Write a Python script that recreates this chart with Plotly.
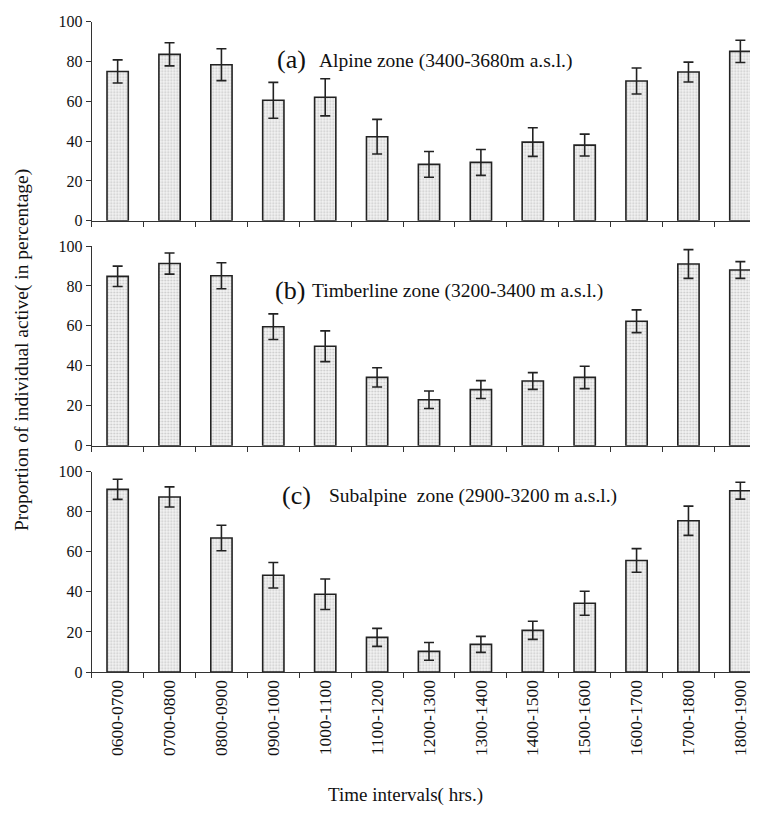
import plotly.graph_objects as go

categories = ["0600-0700", "0700-0800", "0800-0900", "0900-1000", "1000-1100",
              "1100-1200", "1200-1300", "1300-1400", "1400-1500", "1500-1600",
              "1600-1700", "1700-1800", "1800-1900"]

alpine_values = [75, 83.6, 78.4, 60.5, 62, 42.2, 28.3, 29.3, 39.5, 38, 70.2, 74.7, 85.1]
alpine_errors = [5.8, 5.8, 8, 9, 9.3, 8.7, 6.5, 6.5, 7.2, 5.5, 6.5, 5, 5.6]

timberline_values = [84.8, 91.2, 85.1, 59.6, 49.8, 34.2, 23, 28.1, 32.4, 34.2, 62.3, 91, 88]
timberline_errors = [5.1, 5.3, 6.5, 6.4, 7.7, 4.8, 4.4, 4.5, 4.2, 5.6, 5.7, 7.2, 4.2]

subalpine_values = [91.2, 87.4, 66.9, 48.3, 38.8, 17.3, 10.3, 13.8, 20.8, 34.3, 55.7, 75.5, 90.5]
subalpine_errors = [5, 5, 6.4, 6.4, 7.6, 4.5, 4.4, 4, 4.5, 6, 5.9, 7.3, 4.2]

panel_labels = ["(a)", "(b)", "(c)"]
panel_texts = ["Alpine zone (3400-3680m a.s.l.)",
               "Timberline zone (3200-3400 m a.s.l.)",
               "Subalpine  zone (2900-3200 m a.s.l.)"]

y_ticks = [0, 20, 40, 60, 80, 100]

OFF = 8  # default page body margin
W, H = 758 - OFF, 813 - OFF
FONT = "Liberation Serif, Times New Roman, serif"

def px(p):
    return (p - OFF) / W

def py(p):
    return 1 - (p - OFF) / H

# (values, errors, top px, bottom px, label x, text x, label y)
panels = [
    (alpine_values, alpine_errors, 21.7, 220.7, 275, 317, 60),
    (timberline_values, timberline_errors, 246, 445.7, 273, 310, 290),
    (subalpine_values, subalpine_errors, 471.7, 672, 280, 327, 495),
]

fig = go.Figure()
layout = {}
annotations = []
for i, (vals, errs, top, bot, lx, tx, ly) in enumerate(panels):
    n = i + 1
    xa = "x" if n == 1 else f"x{n}"
    ya = "y" if n == 1 else f"y{n}"
    fig.add_trace(go.Bar(
        x=categories, y=vals, xaxis=xa, yaxis=ya, width=0.41,
        marker=dict(color="#f2f2f2",
                    line=dict(color="#222222", width=1.6),
                    pattern=dict(shape=".", size=3, solidity=0.3,
                                 fgcolor="#9a9a9a", bgcolor="#f4f4f4")),
        error_y=dict(type="data", array=errs, visible=True,
                     color="#222222", thickness=1.6, width=5),
        showlegend=False,
    ))
    xkey = "xaxis" if n == 1 else f"xaxis{n}"
    ykey = "yaxis" if n == 1 else f"yaxis{n}"
    layout[xkey] = dict(
        domain=[px(91.7), 1.0], anchor=ya, type="category",
        range=[-0.5, 12.34], showline=True, linecolor="#333333", linewidth=1.2,
        ticks="outside", tickson="boundaries", ticklen=5, tickcolor="#333333",
        showgrid=False, zeroline=False,
        showticklabels=(n == 3), tickangle=-90,
        tickfont=dict(family=FONT, size=17.5, color="#111111"),
        automargin=False,
    )
    layout[ykey] = dict(
        domain=[py(bot), py(top)], anchor=xa, range=[0, 100],
        tickvals=y_ticks, showline=True, linecolor="#333333", linewidth=1.2,
        ticks="outside", ticklen=5, tickcolor="#333333",
        showgrid=False, zeroline=False,
        tickfont=dict(family=FONT, size=16, color="#111111"),
        automargin=False,
    )
    annotations.append(dict(
        xref="paper", yref="paper", x=px(lx), y=py(ly), xanchor="left", yanchor="middle",
        text=panel_labels[i], showarrow=False,
        font=dict(family=FONT, size=26, color="#111111"),
    ))
    annotations.append(dict(
        xref="paper", yref="paper", x=px(tx), y=py(ly + 1), xanchor="left", yanchor="middle",
        text=panel_texts[i], showarrow=False,
        font=dict(family=FONT, size=19.5, color="#111111"),
    ))

annotations.append(dict(
    xref="paper", yref="paper", x=px(22), y=py(350), xanchor="center", yanchor="middle",
    text="Proportion of individual active( in percentage)", textangle=-90,
    showarrow=False, font=dict(family=FONT, size=19.5, color="#111111"),
))
annotations.append(dict(
    xref="paper", yref="paper", x=px(405), y=py(795), xanchor="center", yanchor="middle",
    text="Time intervals( hrs.)",
    showarrow=False, font=dict(family=FONT, size=19, color="#111111"),
))

fig.update_layout(
    width=W, height=H, margin=dict(l=0, r=0, t=0, b=0),
    paper_bgcolor="white", plot_bgcolor="white",
    annotations=annotations, bargap=0.5,
    **layout,
)

fig.write_html("out.html")
